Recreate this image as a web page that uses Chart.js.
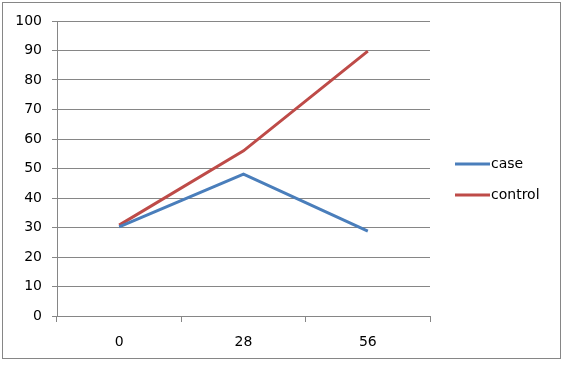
<!DOCTYPE html>
<html>
<head>
<meta charset="utf-8">
<script src="https://cdn.jsdelivr.net/npm/chart.js@4.4.1/dist/chart.umd.min.js"></script>
<style>
body{margin:0;background:#fff}
#wrap{position:absolute;left:0;top:0;width:571px;height:368px}
#frame{position:absolute;left:2px;top:2px;width:559px;height:357px;border:1px solid #868686;box-sizing:border-box}
</style>
</head>
<body>
<div id="wrap">
<div id="frame"></div>
<canvas id="lineChart" width="571" height="368"></canvas>
</div>
<script>
// data
const days=['0','28','56']
const caseValues=[30.2,48.1,28.8]
const controlValues=[30.8,56,89.8]
const seriesNames=['case','control']

const gridColor='#868686'
const fontFamily='"DejaVu Sans", sans-serif'

// legend drawn to the right like excel
const sideLegend={
id:'sideLegend',
afterDraw(chart){
const ctx=chart.ctx
const rows=[164,195]
ctx.save()
chart.data.datasets.forEach((ds,i)=>{
let y=rows[i]
ctx.strokeStyle=ds.borderColor
ctx.lineWidth=3
ctx.beginPath()
ctx.moveTo(455,y)
ctx.lineTo(490,y)
ctx.stroke()
ctx.fillStyle='#000'
ctx.font='14px '+fontFamily
ctx.textBaseline='middle'
ctx.fillText(ds.label,491,y)
})
ctx.restore()
}
}

new Chart(document.getElementById('lineChart'),{
type:'line',
data:{
labels:days,
datasets:[{
label:seriesNames[0],
data:caseValues,
borderColor:'#4a7ebb',
borderWidth:3,
pointRadius:0,
tension:0
},{
label:seriesNames[1],
data:controlValues,
borderColor:'#be4b48',
borderWidth:3,
pointRadius:0,
tension:0
}]
},
options:{
responsive:false,
animation:false,
layout:{padding:{left:0,top:21,right:141,bottom:0}},
plugins:{legend:{display:false},tooltip:{enabled:false}},
scales:{
x:{
offset:true,
grid:{offset:true,drawOnChartArea:false,drawTicks:true,tickLength:6,color:gridColor},
border:{display:true,color:gridColor},
ticks:{color:'#000',font:{family:fontFamily,size:14},padding:12},
afterFit(s){s.height=52}
},
y:{
min:0,max:100,
grid:{color:gridColor,tickLength:5},
border:{display:true,color:gridColor},
ticks:{stepSize:10,color:'#000',font:{family:fontFamily,size:14},padding:10},
afterFit(s){s.width=57}
}
}
},
plugins:[sideLegend]
})
</script>
</body>
</html>
